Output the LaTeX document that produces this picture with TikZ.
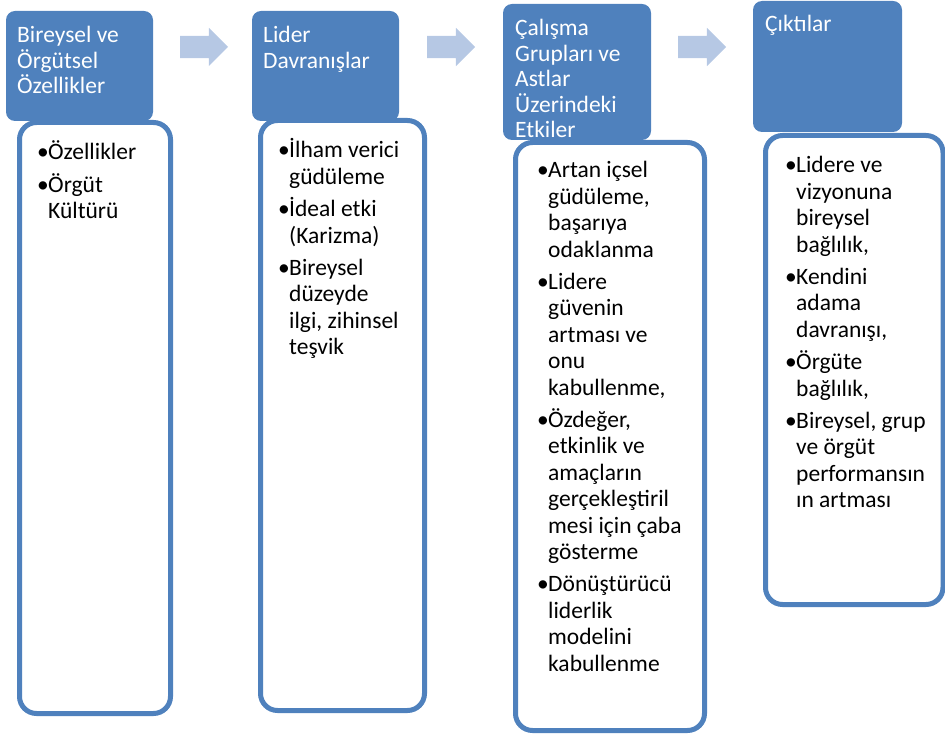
\documentclass[tikz,border=0pt]{standalone}
\usepackage{fontspec}
\setmainfont{Carlito}
\usetikzlibrary{shapes.arrows}
\definecolor{koyu}{RGB}{79,129,189}
\definecolor{acik}{RGB}{182,200,228}
\newcommand{\madde}{\par\noindent\hangindent=11pt\hangafter=1\makebox[11pt][l]{\textbullet}}
\newcommand{\bas}[1]{\parbox[t]{160pt}{\fontsize{23.5}{25.5}\selectfont\raggedright #1}}
\newcommand{\govde}[1]{\parbox[t]{200pt}{\fontsize{23.5}{26.4}\selectfont\raggedright\let\\\newline\setlength{\parskip}{6pt}#1}}
\tikzset{
	baslik/.style={fill=koyu, rounded corners=9pt, inner sep=0pt, outer sep=0pt, anchor=north west},
	kutu/.style={draw=koyu, line width=5pt, fill=white, rounded corners=17pt, inner sep=0pt, outer sep=0pt, anchor=north west},
	ok/.style={single arrow, fill=acik, minimum height=48pt, text height=11pt, text depth=11pt, text width=0pt, single arrow head extend=8pt, inner sep=0pt, outer sep=0pt, anchor=tail},
	byazi/.style={anchor=base west, inner sep=0pt, text=white},
	gyazi/.style={anchor=base west, inner sep=0pt, text=black}
}
\begin{document}
\begin{tikzpicture}[x=1pt,y=-1pt]
	\useasboundingbox (0,0) rectangle (945,735);
	% basliklar
	\node[baslik, minimum width=147pt, minimum height=110pt] (b1) at (6,11) {};
	\node[baslik, minimum width=147pt, minimum height=110pt] (b2) at (252,11) {};
	\node[baslik, minimum width=148pt, minimum height=136pt] (b3) at (503,4) {};
	\node[baslik, minimum width=149pt, minimum height=131pt] (b4) at (753,1) {};
	\node[byazi] (y1) at ([shift={(11,32)}]b1.north west) {\bas{Bireysel ve\\Örgütsel\\Özellikler}};
	\node[byazi] (y2) at ([shift={(11,32)}]b2.north west) {\bas{Lider\\Davranışlar}};
	\node[byazi] (y3) at ([shift={(12,32)}]b3.north west) {\bas{Çalışma\\Grupları ve\\Astlar\\Üzerindeki\\Etkiler}};
	\node[byazi] (y4) at ([shift={(12,31)}]b4.north west) {\bas{Çıktılar}};
	\foreach \i/\x in {1/180,2/427,3/678}
	\node[ok] (ok\i) at (\x,47) {};
	% kutular
	\node[kutu, minimum width=151pt, minimum height=591pt] (k1) at (19.5,122.5) {};
	\node[kutu, minimum width=164pt, minimum height=590pt] (k2) at (260.5,120.5) {};
	\node[kutu, minimum width=189pt, minimum height=588pt] (k3) at (515.5,142.5) {};
	\node[kutu, minimum width=177.5pt, minimum height=469pt] (k4) at (765.5,135.5) {};
	\node[gyazi] (g1) at ([shift={(17.5,37.5)}]k1.north west) {\govde{\madde Özellikler
		\madde Örgüt\\Kültürü}};
	\node[gyazi] (g2) at ([shift={(17.5,37.5)}]k2.north west) {\govde{\madde İlham verici\\güdüleme
		\madde İdeal etki\\(Karizma)
		\madde Bireysel\\düzeyde\\ilgi, zihinsel\\teşvik}};
	\node[gyazi] (g3) at ([shift={(21.5,35.5)}]k3.north west) {\govde{\madde Artan içsel\\güdüleme,\\başarıya\\odaklanma
		\madde Lidere\\güvenin\\artması ve\\onu\\kabullenme,
		\madde Özdeğer,\\etkinlik ve\\amaçların\\gerçekleştiril\\mesi için çaba\\gösterme
		\madde Dönüştürücü\\liderlik\\modelini\\kabullenme}};
	\node[gyazi] (g4) at ([shift={(19.5,37.5)}]k4.north west) {\govde{\madde Lidere ve\\vizyonuna\\bireysel\\bağlılık,
		\madde Kendini\\adama\\davranışı,
		\madde Örgüte\\bağlılık,
		\madde Bireysel, grup\\ve örgüt\\performansın\\ın artması}};
\end{tikzpicture}
\end{document}
